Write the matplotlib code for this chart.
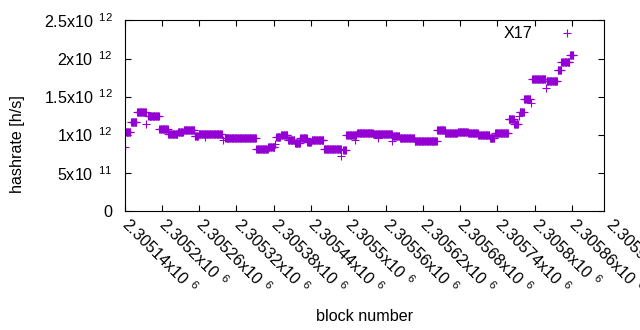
import numpy as np
import matplotlib
matplotlib.use("Agg")
import matplotlib.pyplot as plt

# ── gnuplot-ish look ──────────────────────────────────────────────
PURPLE = "#9400d3"
FS = 11.6
plt.rcParams.update({
    "font.family": ["Liberation Sans", "DejaVu Sans"],
    "font.size": FS,
    "mathtext.fontset": "custom",
    "mathtext.rm": "Liberation Sans",
    "mathtext.it": "Liberation Sans",
    "mathtext.bf": "Liberation Sans",
    "axes.linewidth": 0.8,
})

# ── data: hashrate plateaus (block range, value in 1e12 h/s) ─────
seg_start = [2305140, 2305141, 2305150, 2305160, 2305175, 2305178, 2305196,
             2305210, 2305226, 2305235, 2305253, 2305259, 2305270, 2305298,
             2305302, 2305352, 2305371, 2305382, 2305384, 2305392, 2305403,
             2305414, 2305423, 2305434, 2305441, 2305461, 2305489, 2305492,
             2305497, 2305511, 2305514, 2305540, 2305547, 2305571, 2305572,
             2305583, 2305607, 2305643, 2305656, 2305676, 2305693, 2305701,
             2305709, 2305728, 2305736, 2305758, 2305767, 2305774, 2305776,
             2305783, 2305794, 2305796, 2305818, 2305819, 2305837, 2305843,
             2305857]
seg_end = [2305140, 2305149, 2305159, 2305174, 2305175, 2305195, 2305209,
           2305225, 2305234, 2305252, 2305258, 2305296, 2305270, 2305298,
           2305351, 2305370, 2305381, 2305382, 2305390, 2305402, 2305413,
           2305422, 2305433, 2305440, 2305460, 2305488, 2305489, 2305496,
           2305513, 2305511, 2305539, 2305570, 2305547, 2305571, 2305582,
           2305606, 2305642, 2305655, 2305675, 2305692, 2305700, 2305708,
           2305727, 2305735, 2305757, 2305766, 2305773, 2305774, 2305782,
           2305793, 2305794, 2305817, 2305818, 2305836, 2305842, 2305856,
           2305862]
seg_value = [0.839, 1.037, 1.169, 1.302, 1.143, 1.249, 1.077,
             1.011, 1.037, 1.054, 0.979, 1.011, 0.966, 0.935,
             0.958, 0.812, 0.839, 0.882, 0.971, 0.992, 0.935,
             0.892, 0.958, 0.899, 0.926, 0.812, 0.724, 0.794,
             0.992, 0.935, 1.024, 1.011, 0.958, 0.922, 0.979,
             0.958, 0.913, 1.058, 1.015, 1.032, 1.015, 1.020,
             1.001, 0.958, 1.027, 1.200, 1.140, 1.243, 1.296,
             1.474, 1.420, 1.733, 1.615, 1.698, 1.845, 1.960,
             2.040]

x_ticks = [2305140 + 60 * i for i in range(14)]
y_ticks = [0, 0.5e12, 1.0e12, 1.5e12, 2.0e12, 2.5e12]
y_labels = ["0", r"5x10$^{\ \ 11}$", r"1x10$^{\ \ 12}$", r"1.5x10$^{\ \ 12}$",
            r"2x10$^{\ \ 12}$", r"2.5x10$^{\ \ 12}$"]

# one point per block inside every plateau
blocks, rates = [], []
for s, e, v in zip(seg_start, seg_end, seg_value):
    b = np.arange(s, e + 1)
    blocks.append(b)
    rates.append(np.full(len(b), v * 1e12))
blocks = np.concatenate(blocks)
rates = np.concatenate(rates)

fig = plt.figure(figsize=(6.4, 3.3), dpi=100)
ax = fig.add_axes([0.1948, 0.3615, 0.749, 0.5765])

ax.plot(blocks, rates, linestyle="none", marker="+", ms=5.2, mew=0.8,
        color=PURPLE, label="X17")

ax.set_xlim(2305140, 2305911.6)
ax.set_ylim(0, 2.5e12)

ax.set_yticks(y_ticks)
ax.set_yticklabels(y_labels)
ax.set_xticks(x_ticks[:-1])
ax.set_xticklabels([])
ax.tick_params(direction="in", length=4, width=0.8, top=True, right=True)
ax.tick_params(axis="y", pad=8.5)

# rotated x tick labels, gnuplot style (anchored at the tick, running down-right)
for xv in x_ticks:
    lab = f"{xv / 1e6:g}x10" + r"$^{\ \ 6}$"
    ax.text(xv, -0.053, lab, transform=ax.get_xaxis_transform(),
            rotation=-45, rotation_mode="anchor", ha="left", va="center",
            clip_on=False)

fig.text(0.028, 0.562, "hashrate [h/s]", rotation=90, ha="center", va="center")
fig.text(0.569, 0.042, "block number", ha="center", va="center")

ax.legend(loc="upper right", bbox_to_anchor=(0.956, 0.97), frameon=False,
          markerfirst=False, numpoints=1, handlelength=2.0,
          handletextpad=1.12, borderaxespad=0, borderpad=0)

fig.savefig("out.png", dpi=100)
